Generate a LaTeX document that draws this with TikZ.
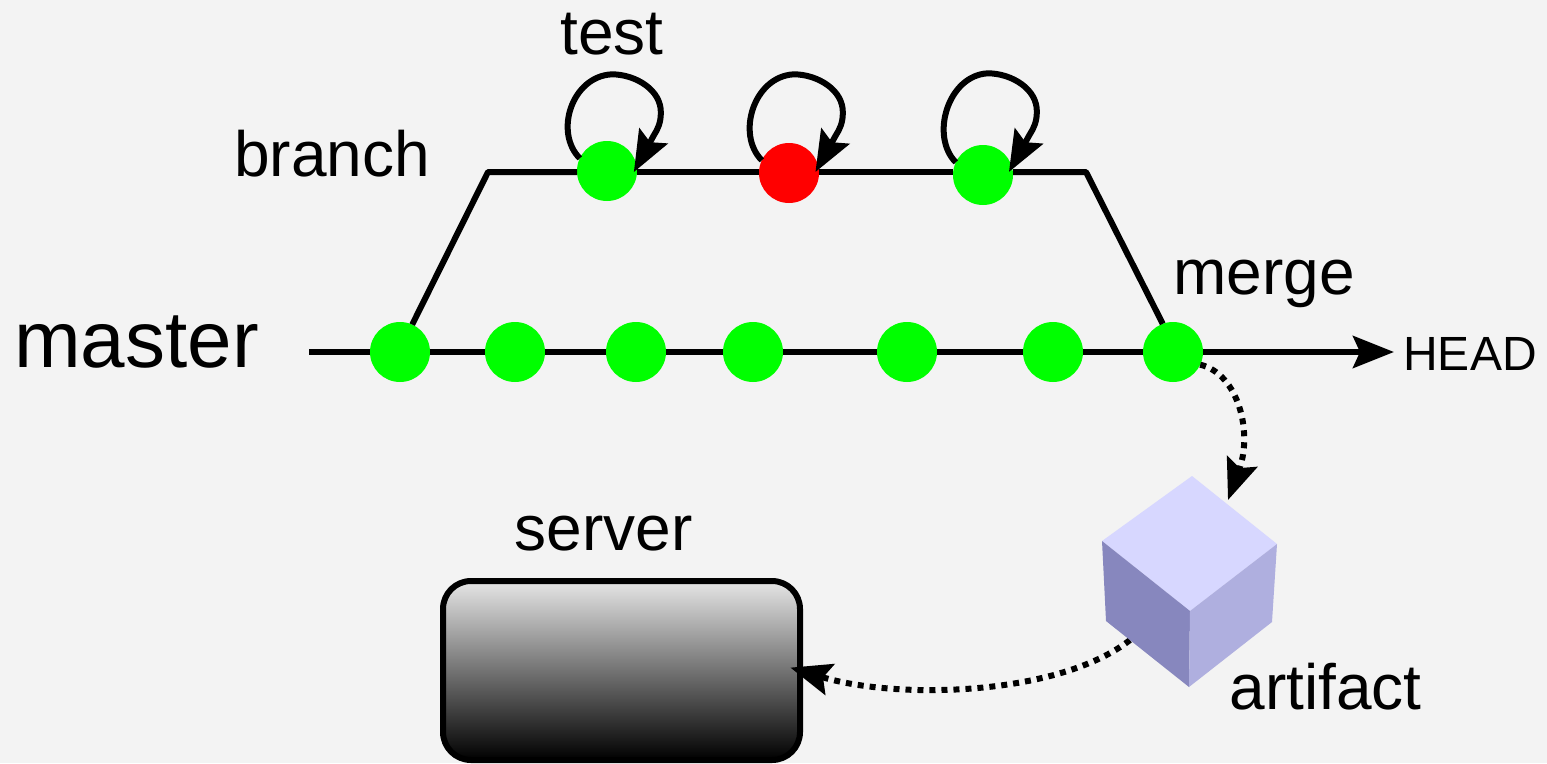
\documentclass[tikz,border=0pt]{standalone}
\usepackage{fontspec}
\setmainfont{Liberation Sans}
\usetikzlibrary{arrows.meta}
\definecolor{bgfill}{HTML}{F3F3F3}
\definecolor{cubetop}{HTML}{D7D7FF}
\definecolor{cubeleft}{HTML}{8787BE}
\definecolor{cuberight}{HTML}{AFAFDF}

\begin{document}
\begin{tikzpicture}[x=1pt, y=-1pt, line width=6pt, line join=round,
    main/.style = {circle, fill=green, inner sep=0pt, outer sep=0pt, minimum size=60pt},
    bad/.style = {main, fill=red},
    label/.style = {inner sep=0pt, anchor=base, font=\fontsize{64}{70}\selectfont},
    tip/.style = {-{Stealth[length=41pt, width=32pt, inset=7pt]}},
    dots/.style = {tip, dash pattern=on 6pt off 6pt} ]
        \path[use as bounding box, fill=bgfill] (0,0) rectangle (1547,763);

        \foreach \name/\x in {m1/400, m2/515, m3/636, m4/753, m5/907, m6/1053, m7/1173}
            \node[main] (\name) at (\x,352) {};
        \node[main] (b1) at (607,171) {};
        \node[bad] (b2) at (789,173) {};
        \node[main] (b3) at (983,175) {};
        \node[draw, rectangle, rounded corners=28pt, line width=6pt, outer sep=0pt,
            minimum width=357pt, minimum height=179pt, top color=black!10,
            middle color=black!62, bottom color=black] (srv) at (621.5,670.5) {};

        \coordinate (start) at (309,352);
        \coordinate (headtip) at (1394,352);
        \coordinate (bl) at (488,172);
        \coordinate (br) at (1086,172);
        \coordinate (arttop) at (1228,500);
        \coordinate (artleft) at (1130,640);

        \draw (start) -- (m1) (m1) -- (m2) (m2) -- (m3) (m3) -- (m4) (m4) -- (m5) (m5) -- (m6) (m6) -- (m7);
        \draw[tip] (m7) -- (headtip);
        \draw (m1.66) -- (bl) -- (b1.west |- bl);
        \draw (b1.east |- bl) -- (b2.west |- bl);
        \draw (b2.east |- bl) -- (b3.west |- bl);
        \draw (b3.east |- bl) -- (br) -- (m7.110);

        \foreach \c/\a/\h in {b1/8/84, b2/12/86, b3/16/89}
            \draw[tip, shorten >=-6pt] (\c.155) .. controls +(-26,-26) and +(-40,2) .. ++(32,-\h)
                .. controls +(24,0) and +(1,-23) .. ++(49,39)
                .. controls +(0,9) and +(4,-6) .. ++(-7,22) -- (\c.\a);

        \draw[dots] (m7.-25) .. controls +(38,9) and +(25,-68) .. (arttop);
        \draw[dots, shorten >=-10pt] (artleft) .. controls +(-70,55) and +(100,30) .. (srv.east);

        % cube
        \coordinate (ca) at (1192,476);
        \coordinate (cb) at (1277,544);
        \coordinate (cc) at (1190,611);
        \coordinate (cd) at (1102,541);
        \coordinate (ce) at (1106,621);
        \coordinate (cf) at (1189,687);
        \coordinate (cg) at (1272,622);
        \fill[cubetop] (ca) -- (cb) -- (cc) -- (cd) -- cycle;
        \fill[cubeleft] (cd) -- (cc) -- (cf) -- (ce) -- cycle;
        \fill[cuberight] (cc) -- (cb) -- (cg) -- (cf) -- cycle;

        \node[label] (test) at (612,54) {test};
        \node[label] (branch) at (332,176) {branch};
        \node[label, font=\fontsize{80}{86}\selectfont] (master) at (136.5,367) {master};
        \node[label] (merge) at (1264,294) {merge};
        \node[label, font=\fontsize{48}{52}\selectfont] (head) at (1470,370) {HEAD};
        \node[label] (server) at (603.5,550) {server};
        \node[label] (artifact) at (1325.5,709) {artifact};

    \end{tikzpicture}
\end{document}
